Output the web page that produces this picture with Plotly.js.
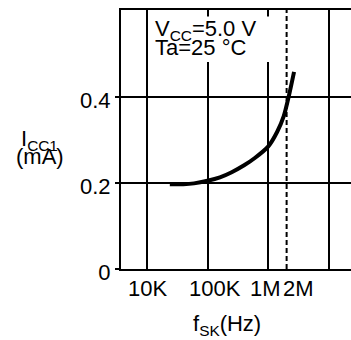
<!DOCTYPE html>
<html>
<head>
<meta charset="utf-8">
<script src="https://cdn.plot.ly/plotly-3.0.1.min.js"></script>
<style>
html,body{margin:0;padding:0;background:#fff;}
#chart{width:351px;height:340px;}
</style>
</head>
<body>
<div id="chart"></div>
<script>
// Curve: supply current vs. clock frequency
var freqHz = [2.4e4, 4e4, 6e4, 1e5, 1.6e5, 2.5e5, 4e5, 6e5, 1e6, 1.4e6, 1.8e6, 2.2e6, 2.65e6];
var iccMA  = [0.197, 0.197, 0.199, 0.205, 0.213, 0.225, 0.241, 0.258, 0.285, 0.319, 0.356, 0.405, 0.458];

// Maximum clock frequency marker
var fMax = 2e6;

// Axis ticks
var xGridVals = [1e4, 1e5, 1e6, 1e7];
var xTickVals = [1e4, 1e5, 1e6, 2e6];
var xTickText = ['10K', '100K', '1M', '2M'];
var yTickVals = [0, 0.2, 0.4];
var yTickText = ['0', '0.2', '0.4'];
var yMax = 0.602;

var FONT = 'Liberation Sans, Arial, Helvetica, sans-serif';
var labelShift = [1, 7, -3, 12];

var traces = [
  {
    x: [fMax, fMax], y: [0, yMax], mode: 'lines', type: 'scatter',
    line: {color: '#000', width: 2, dash: '5px,3px'}, hoverinfo: 'skip', showlegend: false
  },
  {
    x: freqHz, y: iccMA, mode: 'lines', type: 'scatter',
    line: {color: '#000', width: 4, shape: 'spline', smoothing: 0.8}, showlegend: false
  }
];

var annotations = xTickVals.map(function (v, i) {
  return {
    xref: 'x', yref: 'paper', x: Math.log10(v), y: -0.075, xshift: labelShift[i],
    text: xTickText[i], showarrow: false, xanchor: 'center', yanchor: 'middle',
    font: {family: FONT, size: 22, color: '#000'}
  };
});

annotations.push(
  {xref: 'paper', yref: 'paper', x: 0.14, y: 0.923, xanchor: 'left', yanchor: 'middle',
   text: 'V<sub>CC</sub>=5.0 V', showarrow: false, font: {family: FONT, size: 22, color: '#000'}},
  {xref: 'paper', yref: 'paper', x: 0.14, y: 0.855, xanchor: 'left', yanchor: 'middle',
   text: 'Ta=25 °C', showarrow: false, font: {family: FONT, size: 22, color: '#000'}},
  {xref: 'paper', yref: 'paper', x: -0.353, y: 0.498, xanchor: 'center', yanchor: 'middle',
   text: 'I<sub>CC1</sub>', showarrow: false, font: {family: FONT, size: 22, color: '#000'}},
  {xref: 'paper', yref: 'paper', x: -0.353, y: 0.436, xanchor: 'center', yanchor: 'middle',
   text: '(mA)', showarrow: false, font: {family: FONT, size: 22, color: '#000'}},
  {xref: 'paper', yref: 'paper', x: 0.459, y: -0.216, xanchor: 'center', yanchor: 'middle',
   text: 'f<sub>SK</sub>(Hz)', showarrow: false, font: {family: FONT, size: 22, color: '#000'}}
);

var layout = {
  width: 351, height: 340,
  margin: {l: 121, r: 0, t: 10, b: 71, pad: 0},
  paper_bgcolor: '#fff', plot_bgcolor: '#fff',
  showlegend: false,
  font: {family: FONT, size: 22, color: '#000'},
  xaxis: {
    type: 'log', range: [3.577, 7.36],
    tickmode: 'array', tickvals: xGridVals, showticklabels: false, ticks: '',
    showgrid: true, gridcolor: '#000', gridwidth: 2,
    showline: true, linecolor: '#000', linewidth: 2, mirror: true,
    zeroline: false, fixedrange: true
  },
  yaxis: {
    range: [0, yMax],
    tickmode: 'array', tickvals: yTickVals, ticktext: yTickText,
    ticks: 'outside', ticklen: 4, tickwidth: 2, tickcolor: '#000',
    ticklabelshift: 3,
    tickfont: {family: FONT, size: 22, color: '#000'},
    showgrid: true, gridcolor: '#000', gridwidth: 2,
    showline: true, linecolor: '#000', linewidth: 2, mirror: false,
    zeroline: false, fixedrange: true
  },
  shapes: [
    {type: 'rect', layer: 'above', xref: 'paper', yref: 'paper',
     x0: 0.122, x1: 0.657, y0: 0.799, y1: 0.975,
     fillcolor: '#fff', line: {width: 0}}
  ],
  annotations: annotations
};

Plotly.newPlot('chart', traces, layout, {staticPlot: true, displayModeBar: false});
</script>
</body>
</html>
